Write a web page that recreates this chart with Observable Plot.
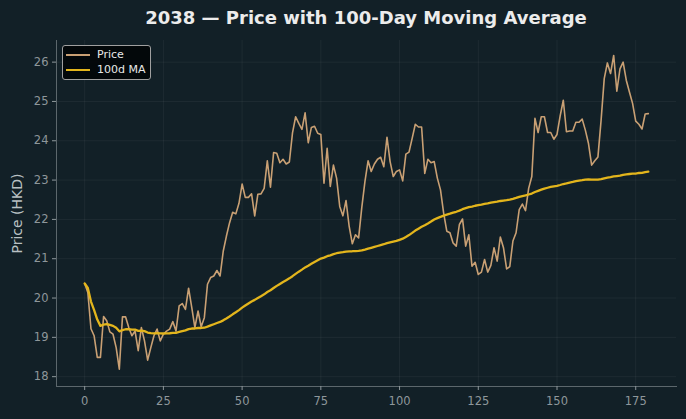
<!DOCTYPE html>
<html>
<head>
<meta charset="utf-8">
<script src="https://cdn.jsdelivr.net/npm/d3@7"></script>
<script src="https://cdn.jsdelivr.net/npm/@observablehq/plot@0.6"></script>
<style>
  html, body { margin: 0; padding: 0; background: #122027; }
  #wrap { position: relative; width: 686px; height: 419px; background: #122027; overflow: hidden;
          font-family: "DejaVu Sans", sans-serif; }
  #title { position: absolute; left: 56px; width: 620px; top: 6px; line-height: 24px; text-align: center;
           color: #ececec; font-weight: bold; font-size: 18px; }
  #chart { position: absolute; left: 0; top: 30px; }
  #legend { position: absolute; left: 62px; top: 45px; width: 89px; height: 35px; box-sizing: border-box;
            background: rgba(2, 6, 8, 0.9); border: 1px solid #a0a0a0; border-radius: 3px; }
  .row { position: absolute; left: 0; height: 14px; width: 100%; }
  .sw { position: absolute; left: 3px; top: 6px; width: 24px; }
  .lab { position: absolute; left: 34px; top: 0; line-height: 14px; font-size: 11px; color: #e8e8e8; }
</style>
</head>
<body>
<div id="wrap">
  <div id="title">2038 — Price with 100-Day Moving Average</div>
  <div id="chart"></div>
  <div id="legend">
    <div class="row" style="top:2px"><div class="sw" id="sw-price"></div><div class="lab" id="lab-price"></div></div>
    <div class="row" style="top:17px"><div class="sw" id="sw-ma"></div><div class="lab" id="lab-ma"></div></div>
  </div>
</div>
<script>
// Daily closing prices (HKD), one per trading day
const prices = [
  20.37, 20.14, 19.22, 19.04, 18.49, 18.49, 19.53, 19.42, 19.14, 19.08,
  18.74, 18.19, 19.52, 19.52, 19.25, 19.04, 19.16, 18.66, 19.25, 18.91,
  18.42, 18.74, 19.04, 19.21, 18.91, 19.08, 19.16, 19.21, 19.40, 19.16,
  19.80, 19.86, 19.71, 20.25, 19.76, 19.25, 19.67, 19.27, 19.50, 20.35,
  20.52, 20.56, 20.70, 20.56, 21.19, 21.57, 21.91, 22.18, 22.14, 22.41,
  22.90, 22.56, 22.56, 22.65, 22.09, 22.64, 22.65, 22.79, 23.49, 22.82,
  23.70, 23.68, 23.44, 23.53, 23.41, 23.46, 24.20, 24.61, 24.44, 24.29,
  24.71, 23.95, 24.34, 24.37, 24.19, 24.16, 22.92, 23.81, 22.84, 23.38,
  23.05, 22.33, 22.09, 22.48, 21.82, 21.38, 21.61, 21.53, 22.30, 22.96,
  23.49, 23.22, 23.41, 23.53, 23.58, 23.34, 24.09, 23.47, 23.09, 23.22,
  23.26, 22.98, 23.66, 23.71, 24.06, 24.42, 24.35, 24.35, 23.17, 23.53,
  23.44, 23.47, 23.05, 22.75, 22.16, 21.70, 21.66, 21.40, 21.32, 21.87,
  22.01, 21.32, 21.61, 20.81, 20.91, 20.60, 20.66, 20.98, 20.66, 20.83,
  21.28, 20.94, 21.55, 21.28, 20.74, 20.80, 21.45, 21.66, 22.25, 22.39,
  22.22, 22.79, 23.09, 24.57, 24.21, 24.61, 24.61, 24.21, 24.21, 24.04,
  24.16, 24.63, 25.03, 24.23, 24.25, 24.25, 24.47, 24.47, 24.55, 24.27,
  23.93, 23.38, 23.49, 23.59, 24.52, 25.58, 25.98, 25.71, 26.17, 25.26,
  25.83, 26.00, 25.54, 25.24, 24.95, 24.50, 24.42, 24.30, 24.68, 24.69
];
const maWindow = 100;
const seriesNames = ["Price", "100d MA"];
const seriesColors = ["#c9a074", "#e3b51c"];
const xTicks = [0, 25, 50, 75, 100, 125, 150, 175];
const yTicks = [18, 19, 20, 21, 22, 23, 24, 25, 26];
const xDomain = [-8.95, 187.95];
const yDomain = [17.75, 26.55];
const yLabel = "Price (HKD)";

const rows = prices.map((p, i) => ({day: i, price: p}));
const tickColor = "#8e979b";

const chart = Plot.plot({
  width: 686,
  height: 389,
  marginTop: 10,
  marginBottom: 33,
  marginLeft: 56,
  marginRight: 10,
  style: {background: "transparent", color: tickColor, fontFamily: "DejaVu Sans, sans-serif", fontSize: "11.5px"},
  x: {domain: xDomain},
  y: {domain: yDomain},
  marks: [
    Plot.gridX(xTicks, {stroke: "#ffffff", strokeOpacity: 0.05}),
    Plot.gridY(yTicks, {stroke: "#ffffff", strokeOpacity: 0.05}),
    Plot.frame({anchor: "left", stroke: "#5c676c"}),
    Plot.frame({anchor: "bottom", stroke: "#5c676c"}),
    Plot.axisX(xTicks, {tickSize: 4, tickPadding: 6, stroke: tickColor, fill: tickColor, label: null}),
    Plot.axisY(yTicks, {tickSize: 4, tickPadding: 4, stroke: tickColor, fill: tickColor, label: null}),
    Plot.text([yLabel], {frameAnchor: "left", textAnchor: "middle", dx: -39, rotate: -90, fill: "#b9c0c3", fontSize: 14}),
    Plot.lineY(rows, {x: "day", y: "price", stroke: seriesColors[0], strokeWidth: 1.6}),
    Plot.lineY(rows, Plot.windowY({k: maWindow, anchor: "end", reduce: "mean", strict: false},
      {x: "day", y: "price", stroke: seriesColors[1], strokeWidth: 2.3}))
  ]
});
document.getElementById("chart").append(chart);

// Legend entries
seriesNames.forEach((name, i) => {
  const id = i === 0 ? "price" : "ma";
  const sw = document.getElementById("sw-" + id);
  sw.style.borderTop = (i === 0 ? 2 : 2.5) + "px solid " + seriesColors[i];
  document.getElementById("lab-" + id).textContent = name;
});
</script>
</body>
</html>
